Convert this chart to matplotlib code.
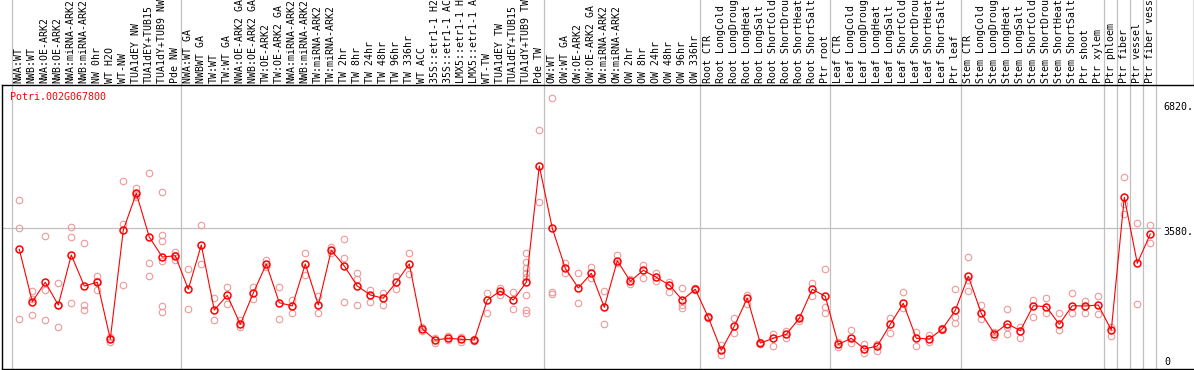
import matplotlib.pyplot as plt
from matplotlib.transforms import blended_transform_factory

gene = "Potri.002G067800"

samples = [
    "NWA:WT", "NWB:WT", "NWA:OE-ARK2", "NWB:OE-ARK2", "NWA:miRNA-ARK2", "NWB:miRNA-ARK2",
    "NW 0hr", "WT H2O", "WT-NW", "TUA1dEY NW", "TUA1dEY+TUB15", "TUA1dY+TUB9 NW", "Pde NW",
    "NWA:WT GA", "NWBWT GA", "TW:WT", "TW:WT GA", "NWA:OE-ARK2 GA", "NWB:OE-ARK2 GA",
    "TW:OE-ARK2", "TW:OE-ARK2 GA", "NWA:miRNA-ARK2", "NWB:miRNA-ARK2", "TW:miRNA-ARK2",
    "TW:miRNA-ARK2", "TW 2hr", "TW 8hr", "TW 24hr", "TW 48hr", "TW 96hr", "TW 336hr",
    "WT ACC", "35S::etr1-1 H2", "35S::etr1-1 AC", "LMX5::etr1-1 H", "LMX5::etr1-1 A",
    "WT-TW", "TUA1dEY TW", "TUA1dEY+TUB15", "TUA1dY+TUB9 TW", "Pde TW",
    "OW:WT", "OW:WT GA", "OW:OE-ARK2", "OW:OE-ARK2 GA", "OW:miRNA-ARK2", "OW:miRNA-ARK2",
    "OW 2hr", "OW 8hr", "OW 24hr", "OW 48hr", "OW 96hr", "OW 336hr",
    "Root CTR", "Root LongCold", "Root LongDroug", "Root LongHeat", "Root LongSalt",
    "Root ShortCold", "Root ShortDrou", "Root ShortHeat", "Root ShortSalt", "Ptr root",
    "Leaf CTR", "Leaf LongCold", "Leaf LongDroug", "Leaf LongHeat", "Leaf LongSalt",
    "Leaf ShortCold", "Leaf ShortDrou", "Leaf ShortHeat", "Leaf ShortSalt", "Ptr leaf",
    "Stem CTR", "Stem LongCold", "Stem LongDroug", "Stem LongHeat", "Stem LongSalt",
    "Stem ShortCold", "Stem ShortDrou", "Stem ShortHeat", "Stem ShortSalt", "Ptr shoot",
    "Ptr xylem", "Ptr phloem", "Ptr fiber", "Ptr vessel", "Ptr fiber vess",
]

means = [
    3045, 1712, 2206, 1628, 2900, 2112, 2206, 763, 3536, 4470,
    3358, 2849, 2882, 2028, 3155, 1501, 1875, 1137, 1933, 2671,
    1687, 1603, 2671, 1628, 3020, 2620, 2112, 1883, 1799, 2206,
    2671, 1018, 738, 781, 756, 738, 1755, 1984, 1755, 2206,
    5164, 3580, 2562, 2061, 2435, 1570, 2755, 2231, 2511, 2333,
    2137, 1755, 2028, 1315, 476, 1086, 1806, 661, 781, 883,
    1290, 2028, 1849, 628, 781, 509, 585, 1137, 1671, 781,
    763, 1018, 1493, 2358, 1417, 898, 1152, 974, 1610, 1585,
    1137, 1610, 1603, 1628, 992, 4368, 2689, 3434,
]

replicates = [
    [4292, 3580, 1272], [1984, 1366, 1786], [3376, 2002, 1247], [2180, 1068, 1636],
    [3605, 3358, 1671], [3198, 1628, 1501], [2366, 2010, 2242], [695, 822, 770],
    [4775, 3689, 2137], [4612, 4368, 4430], [4986, 2697, 2366],
    [4495, 3409, 3249, 2755, 1610, 1442], [2969, 2773, 2904], [2536, 1526],
    [3663, 2671], [1799, 1247], [2086, 1646], [1247, 1061], [2086, 1781],
    [2773, 2603], [2086, 1272], [1755, 1432], [2951, 2391], [1865, 1417],
    [3111, 2943], [3307, 2816, 1704], [2450, 2282, 1628], [2010, 1712],
    [1941, 1628], [2366, 2043], [2943, 2409], [1061, 959], [781, 654],
    [840, 738], [806, 695], [756, 720], [1941, 1417], [2068, 1883], [1959, 1526],
    [2943, 2714, 2562, 2450, 2348, 1883, 1501, 1417], [6073, 4248],
    [6887, 1951, 1902], [2689, 2435], [2435, 1671], [2595, 2307], [1977, 1137],
    [2900, 2689], [2282, 2155], [2646, 2307], [2450, 2246], [2206, 1967],
    [2053, 1628, 1544], [2060, 2000], [1340, 1290], [611, 356], [1290, 908],
    [1883, 1646], [690, 630], [883, 585], [974, 781], [1331, 1229], [2180, 1857],
    [2536, 1585, 1417], [695, 552], [992, 669], [636, 399], [636, 466],
    [1290, 908], [1951, 1544], [934, 593], [865, 679], [1043, 992],
    [2028, 1331, 1163], [2842, 2264, 1984], [1620, 1264], [934, 822],
    [1526, 1061, 883], [1076, 781], [1755, 1331], [1799, 1432], [1417, 992],
    [1933, 1417], [1730, 1432], [1857, 1392], [1061, 840], [4892, 4190, 3943],
    [3707, 1646], [3656, 3198],
]

# gray separators drawn after these sample indices
dividers = [-1, 12, 40, 52, 62, 72, 83, 84, 85, 86, 87]
ref_value = 3580
top_label = "6820."
mid_label = "3580."

W, H = 1194, 370
top_px, bot_px, left_px = 85, 369, 2
fig = plt.figure(figsize=(W / 100, H / 100), dpi=100)
ax = fig.add_axes([left_px / W, (H - bot_px) / H, (W - left_px) / W, (bot_px - top_px) / H])
ax.set_xlim((left_px - 19.3) / 13, (W - 19.3) / 13)
ax.set_ylim(0, (bot_px - top_px) * 25.44)

mono = "DejaVu Sans Mono"
ymax_ext = bot_px / (bot_px - top_px)

for d in dividers:
    ax.axvline(d + 0.4, 0, ymax_ext, color="#c0c0c0", lw=0.9, clip_on=False, zorder=1)
ax.axhline(ref_value, 0, (1160 - left_px) / (W - left_px), color="#c0c0c0", lw=0.9, zorder=1)

xs = list(range(len(means)))
for i, r in enumerate(replicates):
    ax.plot([i] * len(r), r, "o", ms=4.7, mfc="none", mec="#ef9898", mew=0.8, zorder=2)
ax.plot(xs, means, "-", color="red", lw=0.8, zorder=3)
ax.plot(xs, means, "o", ms=5.0, mfc="none", mec="red", mew=1.1, zorder=4)

trans = blended_transform_factory(ax.transData, ax.transAxes)
for i, name in enumerate(samples):
    ax.text(i - 0.05, (bot_px - 83) / (bot_px - top_px), name, transform=trans,
            rotation=90, ha="center", va="bottom", fontsize=7.1, family=mono, clip_on=False)

ax.text((10 - left_px) / (W - left_px), (bot_px - 92.5) / (bot_px - top_px), gene,
        transform=ax.transAxes, color="red", fontsize=7.2, family=mono, va="top", ha="left")
ax.text((1163 - left_px) / (W - left_px), (bot_px - 107) / (bot_px - top_px), top_label,
        transform=ax.transAxes, fontsize=7.2, family=mono, va="center", ha="left")
ax.text((1163 - left_px) / (W - left_px), (bot_px - 232) / (bot_px - top_px), mid_label,
        transform=ax.transAxes, fontsize=7.2, family=mono, va="center", ha="left")
ax.text((1164 - left_px) / (W - left_px), (bot_px - 362) / (bot_px - top_px), "0",
        transform=ax.transAxes, fontsize=7.2, family=mono, va="center", ha="left")

# right border of the label strip
ax.plot([1, 1], [1, ymax_ext], transform=ax.transAxes, color="black", lw=0.9, clip_on=False)

for side in ["left", "bottom", "top"]:
    ax.spines[side].set_linewidth(1.0)
ax.spines["right"].set_visible(False)
ax.set_xticks([])
ax.set_yticks([])

fig.savefig("out.png", dpi=100)
